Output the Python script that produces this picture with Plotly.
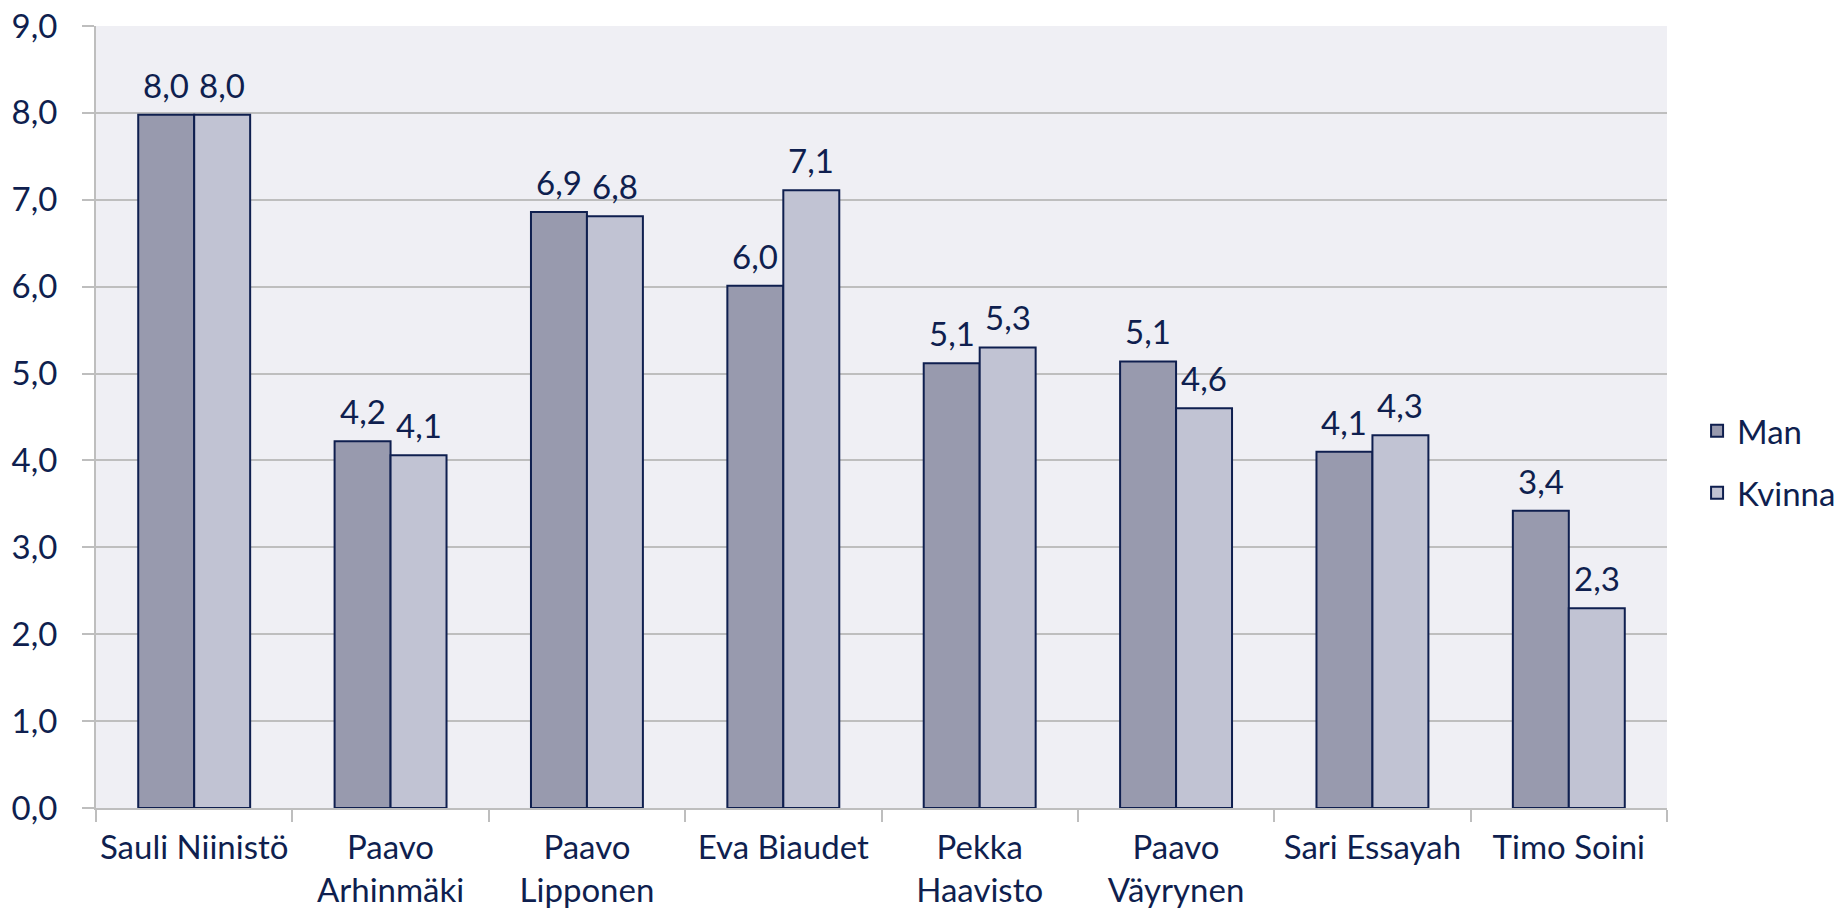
import plotly.graph_objects as go

candidates = ["Sauli Niinistö", "Paavo<br>Arhinmäki", "Paavo<br>Lipponen", "Eva Biaudet",
              "Pekka<br>Haavisto", "Paavo<br>Väyrynen", "Sari Essayah", "Timo Soini"]
man = [7.98, 4.22, 6.86, 6.01, 5.12, 5.14, 4.10, 3.42]
kvinna = [7.98, 4.06, 6.81, 7.11, 5.30, 4.60, 4.29, 2.30]

navy = "#0f1f4f"
font = dict(family="Lato, Open Sans, sans-serif", size=33, color=navy)

fig = go.Figure()
fig.add_trace(go.Bar(x=candidates, y=man, name="Man", legendgroup="m",
                     marker=dict(color="#989aae", line=dict(color=navy, width=2))))
fig.add_trace(go.Bar(x=candidates, y=kvinna, name="Kvinna", legendgroup="k",
                     marker=dict(color="#c1c3d3", line=dict(color=navy, width=2))))

def lbl(v):
    return f"{v:.1f}".replace(".", ",")

for c, m, k in zip(candidates, man, kvinna):
    fig.add_annotation(x=c, y=m, text=lbl(m), showarrow=False, xshift=-28, yshift=8,
                       yanchor="bottom", font=font)
    fig.add_annotation(x=c, y=k, text=lbl(k), showarrow=False, xshift=28, yshift=8,
                       yanchor="bottom", font=font)

# page body has an 8px margin, so the figure is a bit smaller than the window
fig.update_layout(
    width=1828, height=904,
    barmode="group", bargap=0.43, bargroupgap=0,
    plot_bgcolor="#efeff4", paper_bgcolor="white",
    font=font, separators=", ",
    margin=dict(l=88, r=169, t=18, b=104),
    legend=dict(xref="container", yref="container", x=0.924, y=0.498,
                xanchor="left", yanchor="middle", font=font,
                traceorder="grouped", tracegroupgap=16,
                bgcolor="rgba(0,0,0,0)"),
)
fig.update_xaxes(tickson="boundaries", ticks="outside", ticklen=12, tickcolor="#bebebe", tickwidth=2,
                 showline=True, linecolor="#bebebe", linewidth=2, showgrid=False,
                 automargin=False, tickangle=0, ticklabelstandoff=9)
fig.update_yaxes(range=[0, 9], dtick=1, tickformat=".1f", ticks="outside", ticklen=12,
                 tickcolor="#bebebe", tickwidth=2, showline=True, linecolor="#bebebe", linewidth=2,
                 gridcolor="#bebebe", gridwidth=2, ticklabelstandoff=18, zeroline=False,
                 automargin=False, ticklabeloverflow="allow")

fig.write_html("out.html")
